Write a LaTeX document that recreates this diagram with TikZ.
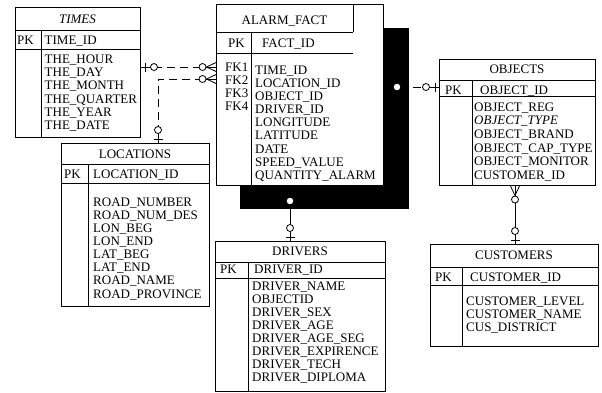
\documentclass[tikz,border=0pt]{standalone}
\usepackage{fontspec}
\setmainfont{Liberation Serif}

\begin{document}
\begin{tikzpicture}[
    x=1pt, y=-1pt,
    tbl/.style={draw, line width=1pt, fill=white, inner sep=0, anchor=north west},
    tline/.style={line width=1pt},
    ttl/.style={font=\fontsize{13}{15}\selectfont, anchor=base, inner sep=0},
    fld/.style={font=\fontsize{13}{15}\selectfont, anchor=base west, inner sep=0},
    rel/.style={line width=0.8pt},
    dsh/.style={rel, dash pattern=on 8pt off 5pt},
    hole/.style={circle, fill=white, inner sep=0, minimum size=6.5pt},
    zeroone/.pic={
        \draw[rel] (0,0) -- (-17,0);
        \draw[rel] (-4,-4.5) -- (-4,4.5);
        \draw[rel, fill=white] (-13,0) circle[radius=3.5];
    },
    zeromany/.pic={
        \draw[rel] (0,0) -- (-17,0);
        \draw[rel] (0,-4.5) -- (-9.5,0) -- (0,4.5);
        \draw[rel, fill=white] (-13.5,0) circle[radius=3.5];
    },
]
\useasboundingbox (0,0) rectangle (602,392);

% --- TIMES ---
\node[tbl, minimum width=125pt, minimum height=130pt] (times) at (15,7) {};
\draw[tline] (15,30) -- (140,30) (15,49) -- (140,49) (41,30) -- (41,137);
\node[ttl] (times-name) at (77.5,23) {\textit{TIMES}};
\node[fld] (times-pk) at (17,44) {PK};
\node[fld] (times-id) at (44.5,44) {TIME\_ID};
\foreach \f [count=\i] in {THE\_HOUR, THE\_DAY, THE\_MONTH, THE\_QUARTER, THE\_YEAR, THE\_DATE}
    \node[fld] (times-\i) at (44.5,{63.5+13.2*(\i-1)}) {\f};

% --- LOCATIONS ---
\node[tbl, minimum width=148pt, minimum height=163pt] (locs) at (61,143) {};
\draw[tline] (61,164) -- (209,164) (61,183) -- (209,183) (88,164) -- (88,306);
\node[ttl] (locs-name) at (135,158.5) {LOCATIONS};
\node[fld] (locs-pk) at (64,178) {PK};
\node[fld] (locs-id) at (93,178) {LOCATION\_ID};
\foreach \f [count=\i] in {ROAD\_NUMBER, ROAD\_NUM\_DES, LON\_BEG, LON\_END, LAT\_BEG, LAT\_END, ROAD\_NAME, ROAD\_PROVINCE}
    \node[fld] (locs-\i) at (93,{206+13.15*(\i-1)}) {\f};

% --- ALARM_FACT (with its shadow) ---
\fill (240,28) rectangle (409,209);
\node[tbl, minimum width=167pt, minimum height=181pt] (fact) at (216,4) {};
\draw[tline] (353,4) -- (353,32) (216,32) -- (353,32) (216,53) -- (353,53) (251,32) -- (251,185);
\node[ttl] (fact-name) at (284.5,24.5) {ALARM\_FACT};
\node[fld] (fact-pk) at (228,47.5) {PK};
\node[fld] (fact-id) at (262,47.5) {FACT\_ID};
\foreach \k in {1,...,4}
    \node[fld] (fact-fk\k) at (225,{71.4+13.1*(\k-1)}) {FK\k};
\foreach \f [count=\i] in {TIME\_ID, LOCATION\_ID, OBJECT\_ID, DRIVER\_ID, LONGITUDE, LATITUDE, DATE, SPEED\_VALUE, QUANTITY\_ALARM}
    \node[fld] (fact-\i) at (255,{74.4+13.1*(\i-1)}) {\f};
\node[hole] (hole-r) at (397,87) {};
\node[hole] (hole-b) at (290,201) {};

% --- OBJECTS ---
\node[tbl, minimum width=156pt, minimum height=126pt] (objects) at (439,59) {};
\draw[tline] (439,80) -- (595,80) (439,96) -- (595,96) (472,80) -- (472,185);
\node[ttl] (obj-name) at (517,73.7) {OBJECTS};
\node[fld] (obj-pk) at (445,94.4) {PK};
\node[fld] (obj-id) at (480,94.4) {OBJECT\_ID};
\foreach \f [count=\i] in {OBJECT\_REG, \textit{OBJECT\_TYPE}, OBJECT\_BRAND, OBJECT\_CAP\_TYPE, OBJECT\_MONITOR, CUSTOMER\_ID}
    \node[fld] (obj-\i) at (474,{111+13.7*(\i-1)}) {\f};

% --- DRIVERS ---
\node[tbl, minimum width=170pt, minimum height=150pt] (drivers) at (215,241) {};
\draw[tline] (215,262) -- (385,262) (215,278) -- (385,278) (248,262) -- (248,391);
\node[ttl] (drv-name) at (300,255.4) {DRIVERS};
\node[fld] (drv-pk) at (220,273.4) {PK};
\node[fld] (drv-id) at (254,273.4) {DRIVER\_ID};
\foreach \f [count=\i] in {DRIVER\_NAME, OBJECTID, DRIVER\_SEX, DRIVER\_AGE, DRIVER\_AGE\_SEG, DRIVER\_EXPIRENCE, DRIVER\_TECH, DRIVER\_DIPLOMA}
    \node[fld] (drv-\i) at (252,{290.4+13*(\i-1)}) {\f};

% --- CUSTOMERS ---
\node[tbl, minimum width=168pt, minimum height=102pt] (customers) at (430,244) {};
\draw[tline] (430,267) -- (598,267) (430,285) -- (598,285) (462,267) -- (462,346);
\node[ttl] (cus-name) at (514,259.5) {CUSTOMERS};
\node[fld] (cus-pk) at (435,281) {PK};
\node[fld] (cus-id) at (470,281) {CUSTOMER\_ID};
\foreach \f [count=\i] in {CUSTOMER\_LEVEL, CUSTOMER\_NAME, CUS\_DISTRICT}
    \node[fld] (cus-\i) at (466,{305+13*(\i-1)}) {\f};

% relationships
\draw[dsh] (times.east |- 0,67) -- (fact.west |- 0,67);
\path (times.east |- 0,67) pic[rotate=180] {zeroone};
\path (fact.west |- 0,67) pic {zeromany};

\draw[dsh] (fact.west |- 0,79) -| (locs.north -| 158,0);
\path (fact.west |- 0,79) pic {zeromany};
\path (locs.north -| 158,0) pic[rotate=-90] {zeroone};

\draw[dsh] (hole-r) -- (objects.west |- hole-r);
\path (objects.west |- hole-r) pic {zeroone};

\draw[rel] (hole-b) -- (drivers.north -| hole-b);
\path (drivers.north -| hole-b) pic[rotate=-90] {zeroone};

\draw[rel] (objects.south -| 515,0) -- (customers.north -| 515,0);
\path (objects.south -| 515,0) pic[rotate=90] {zeromany};
\path (customers.north -| 515,0) pic[rotate=-90] {zeroone};
\end{tikzpicture}
\end{document}
